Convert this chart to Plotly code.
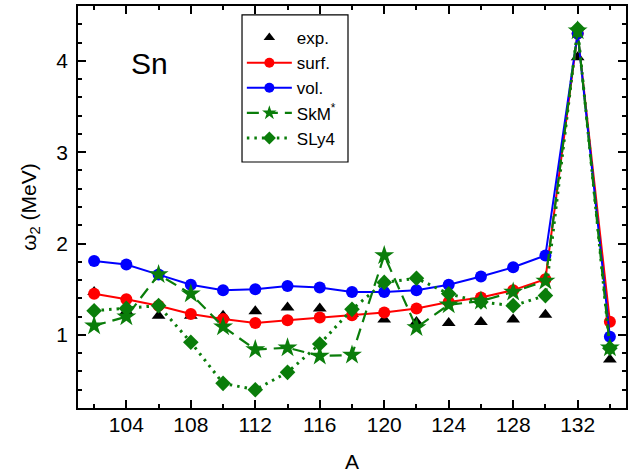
import plotly.graph_objects as go

A = [102, 104, 106, 108, 110, 112, 114, 116, 118, 120, 122, 124, 126, 128, 130, 132, 134]

exp_vals = [1.47, 1.26, 1.21, 1.21, 1.21, 1.26, 1.30, 1.29, 1.23, 1.17, 1.14, 1.13, 1.14, 1.17, 1.22, 4.04, 0.73]
surf_vals = [1.45, 1.39, 1.32, 1.23, 1.175, 1.13, 1.16, 1.19, 1.215, 1.245, 1.29, 1.36, 1.41, 1.49, 1.61, 4.30, 1.145]
vol_vals = [1.81, 1.77, 1.66, 1.55, 1.49, 1.50, 1.535, 1.52, 1.47, 1.47, 1.49, 1.55, 1.64, 1.74, 1.87, 4.30, 0.98]
skm_vals = [1.10, 1.20, 1.66, 1.45, 1.09, 0.84, 0.86, 0.77, 0.78, 1.87, 1.08, 1.33, 1.37, 1.47, 1.59, 4.33, 0.86]
sly4_vals = [1.265, 1.29, 1.32, 0.92, 0.47, 0.40, 0.59, 0.90, 1.28, 1.575, 1.62, 1.45, 1.36, 1.32, 1.43, 4.35, 0.855]

x_ticks = [104, 108, 112, 116, 120, 124, 128, 132]
y_ticks = [1, 2, 3, 4]

series_names = ["exp.", "surf.", "vol.", "SkM<sup>*</sup>", "SLy4"]

FONT = "Liberation Sans, Arial, sans-serif"
GREEN = "#0a7d0a"

styles = [
    dict(mode="markers", line=dict(color="black", width=2), symbol="triangle-up", color="black", size=12, lsize=10),
    dict(mode="lines+markers", line=dict(color="#ff0000", width=2), symbol="circle", color="#ff0000", size=12, lsize=10),
    dict(mode="lines+markers", line=dict(color="#0000ff", width=2), symbol="circle", color="#0000ff", size=12, lsize=10),
    dict(mode="lines+markers", line=dict(color=GREEN, width=2.2, dash="12px,7px"), symbol="star", color=GREEN, size=15, lsize=11),
    dict(mode="lines+markers", line=dict(color=GREEN, width=3, dash="2.5px,5px"), symbol="diamond", color=GREEN, size=12, lsize=10),
]
values = [exp_vals, surf_vals, vol_vals, skm_vals, sly4_vals]

fig = go.Figure()
for name, vals, st in zip(series_names, values, styles):
    fig.add_trace(go.Scatter(x=A, y=vals, mode=st["mode"], name=name, showlegend=False,
                             line=st["line"],
                             marker=dict(symbol=st["symbol"], size=st["size"], color=st["color"])))
# legend-only entries with smaller symbols
for name, st in zip(series_names, styles):
    fig.add_trace(go.Scatter(x=[None], y=[None], mode=st["mode"], name=name, showlegend=True,
                             line=st["line"],
                             marker=dict(symbol=st["symbol"], size=st["lsize"], color=st["color"])))

axis_common = dict(showline=True, linecolor="black", linewidth=1.6, mirror="ticks",
                   ticks="inside", ticklen=8, tickwidth=1.5, tickcolor="black",
                   showgrid=False, zeroline=False, automargin=False,
                   tickfont=dict(family=FONT, size=21, color="black"))

fig.update_xaxes(range=[101, 135], tickvals=x_ticks,
                 minor=dict(ticks="inside", ticklen=4, tickwidth=1.5, tickcolor="black",
                            tick0=102, dtick=4, showgrid=False),
                 title=dict(text="A", font=dict(family=FONT, size=21, color="black"), standoff=19),
                 ticklabelstandoff=-3,
                 **axis_common)
fig.update_yaxes(range=[0.2, 4.6], tickvals=y_ticks,
                 minor=dict(ticks="inside", ticklen=4, tickwidth=1.5, tickcolor="black",
                            tick0=0.2, dtick=0.2, showgrid=False),
                 title=dict(text="\u03c9<sub>2</sub> (MeV)", font=dict(family=FONT, size=21, color="black"), standoff=14),
                 ticklabelstandoff=4,
                 **axis_common)

fig.add_annotation(text="Sn", xref="paper", yref="paper", x=0.131, y=0.857,
                   xanchor="center", yanchor="middle",
                   showarrow=False, font=dict(family=FONT, size=30, color="black"))

# legend frame
fig.add_shape(type="rect", xref="paper", yref="paper",
              x0=0.2993, x1=0.4927, y0=0.612, y1=0.978,
              line=dict(color="black", width=1.2), fillcolor="white", layer="above")

fig.update_layout(
    width=635, height=474,
    margin=dict(l=78, r=9, t=6, b=66, autoexpand=False),
    paper_bgcolor="white", plot_bgcolor="white",
    showlegend=True,
    legend=dict(x=0.299, y=0.965, xanchor="left", yanchor="top",
                bgcolor="rgba(0,0,0,0)", borderwidth=0,
                font=dict(family=FONT, size=17, color="black"),
                tracegroupgap=0, itemwidth=45),
    font=dict(family=FONT, color="black"),
)

fig.write_html("out.html", config={"displayModeBar": False},
               post_script="document.body.style.margin='0';document.body.style.overflow='hidden';")
